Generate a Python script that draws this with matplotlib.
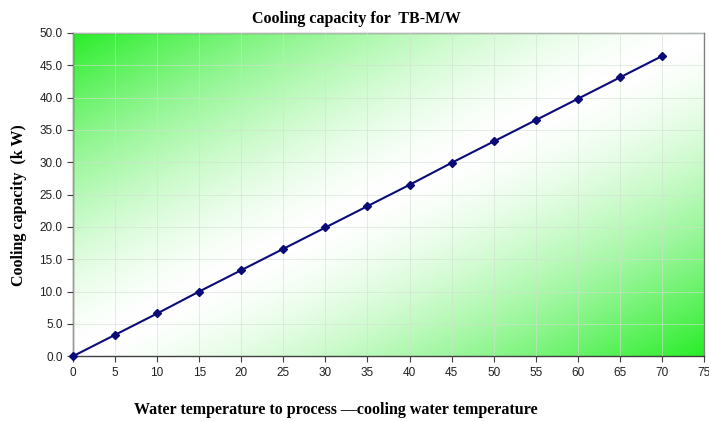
import numpy as np
import matplotlib
matplotlib.use("Agg")
import matplotlib.pyplot as plt
from matplotlib.colors import LinearSegmentedColormap

temps = [0, 5, 10, 15, 20, 25, 30, 35, 40, 45, 50, 55, 60, 65, 70]
capacity = [0.0, 3.3, 6.6, 10.0, 13.3, 16.6, 19.9, 23.2, 26.5, 29.9, 33.2, 36.5, 39.8, 43.1, 46.4]
xticks = list(range(0, 80, 5))
yticks = [0, 5, 10, 15, 20, 25, 30, 35, 40, 45, 50]

fig = plt.figure(figsize=(7.09, 4.21), dpi=100)
ax = fig.add_axes([0.103, 0.154, 0.890, 0.768])

# gradient background
n = 300
u = np.linspace(0, 1, n)
U, V = np.meshgrid(u, u)
T = np.abs(U - V) ** 1.5
cmap = LinearSegmentedColormap.from_list("g", [(1, 1, 1), (0.16, 0.93, 0.16)])
ax.imshow(T, cmap=cmap, extent=[0, 75, 0, 50], origin="lower", aspect="auto", zorder=0, vmin=0, vmax=1)

ax.set_xlim(0, 75)
ax.set_ylim(0, 50)
ax.set_xticks(xticks)
ax.set_yticks(yticks)
ax.set_yticklabels([f"{v:.1f}" for v in yticks])
ax.grid(True, color=(0.82, 0.88, 0.82), linewidth=0.6, alpha=0.7, zorder=1)
ax.set_axisbelow(False)

ax.plot(temps, capacity, color="#0a0a78", linewidth=1.5, marker="D", markersize=4, zorder=3, clip_on=False)

for s in ["left", "bottom"]:
    ax.spines[s].set_color("#404040")
    ax.spines[s].set_linewidth(1.0)
for s in ["top", "right"]:
    ax.spines[s].set_color("#808080")
    ax.spines[s].set_linewidth(1.0)

ax.tick_params(axis="both", direction="out", length=4, width=0.8, color="#404040",
               labelsize=8.5, labelcolor="#202020")
for lab in ax.get_xticklabels() + ax.get_yticklabels():
    lab.set_family("Liberation Sans")

fig.text(0.503, 0.955, "Cooling capacity for  TB-M/W", ha="center", va="center",
         family="Liberation Serif", fontweight="bold", fontsize=11.5)
fig.text(0.473, 0.025, "Water temperature to process \u2014cooling water temperature", ha="center", va="center",
         family="Liberation Serif", fontweight="bold", fontsize=11.5)
fig.text(0.027, 0.513, "Cooling capacity  (k W)", ha="center", va="center", rotation=90,
         family="Liberation Serif", fontweight="bold", fontsize=11.5)

fig.savefig("out.png", dpi=100)
